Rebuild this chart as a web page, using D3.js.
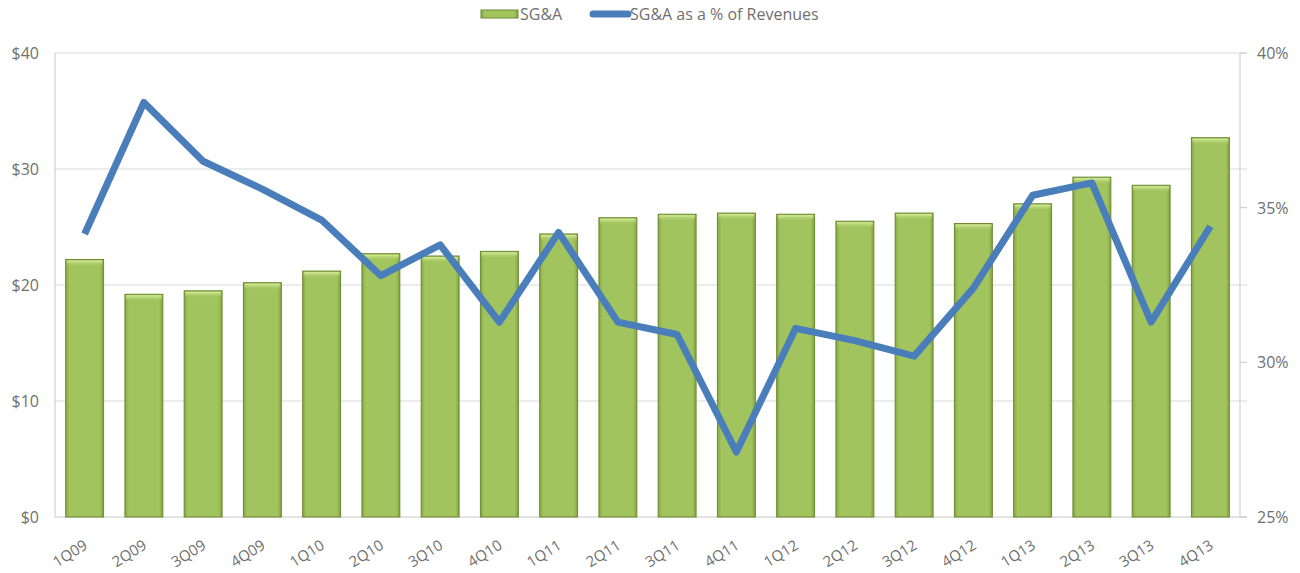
<!DOCTYPE html>
<html>
<head>
<meta charset="utf-8">
<script src="https://cdn.jsdelivr.net/npm/d3@7"></script>
<style>
  body { margin: 0; background: #fff; }
  text { font-family: "Open Sans", "DejaVu Sans", sans-serif; fill: #707070; }
</style>
</head>
<body>
<div class="canvas"></div>
<script>
// data
var quarters = ['1Q09','2Q09','3Q09','4Q09','1Q10','2Q10','3Q10','4Q10','1Q11','2Q11',
                '3Q11','4Q11','1Q12','2Q12','3Q12','4Q12','1Q13','2Q13','3Q13','4Q13'];
var sga = [22.2, 19.2, 19.5, 20.2, 21.2, 22.7, 22.5, 22.9, 24.4, 25.8,
           26.1, 26.2, 26.1, 25.5, 26.2, 25.3, 27.0, 29.3, 28.6, 32.7];
var sgaPct = [34.15, 38.4, 36.5, 35.6, 34.6, 32.8, 33.8, 31.3, 34.2, 31.3,
              30.9, 27.1, 31.1, 30.7, 30.2, 32.4, 35.4, 35.8, 31.3, 34.4];
var leftTicks = [0, 10, 20, 30, 40];
var rightTicks = [25, 30, 35, 40];
var legendNames = ['SG&A', 'SG&A as a % of Revenues'];

var width = 1300, height = 573;
var m = { left: 55, right: 60, top: 53, bottom: 56 };

var svg = d3.select('.canvas').append('svg')
  .attr('width', width).attr('height', height);

// bar gradient
var defs = svg.append('defs');
var grad = defs.append('linearGradient').attr('id', 'barGrad')
  .attr('x1', 0).attr('x2', 1).attr('y1', 0).attr('y2', 0);
grad.append('stop').attr('offset', '0%').attr('stop-color', '#86a83f');
grad.append('stop').attr('offset', '10%').attr('stop-color', '#a2c45e');
grad.append('stop').attr('offset', '90%').attr('stop-color', '#a2c45e');
grad.append('stop').attr('offset', '100%').attr('stop-color', '#82a33c');
var topGrad = defs.append('linearGradient').attr('id', 'topGrad')
  .attr('x1', 0).attr('x2', 0).attr('y1', 0).attr('y2', 1);
topGrad.append('stop').attr('offset', '0%').attr('stop-color', '#d8ee9e');
topGrad.append('stop').attr('offset', '100%').attr('stop-color', '#a2c45e').attr('stop-opacity', 0);

var x = d3.scaleBand().domain(quarters)
  .range([m.left, width - m.right]).paddingInner(0.36).paddingOuter(0.18);
var yL = d3.scaleLinear().domain([0, 40]).range([height - m.bottom, m.top]);
var yR = d3.scaleLinear().domain([25, 40]).range([height - m.bottom, m.top]);

// gridlines
svg.append('g').selectAll('line')
  .data(leftTicks.slice(1))
  .enter().append('line')
  .attr('x1', m.left).attr('x2', width - m.right + 7)
  .attr('y1', d => yL(d)).attr('y2', d => yL(d))
  .attr('stroke', '#d9d9d9').attr('stroke-width', 1);

// axes lines
svg.append('line').attr('x1', m.left).attr('x2', m.left)
  .attr('y1', m.top).attr('y2', height - m.bottom).attr('stroke', '#c8c8c8');
svg.append('line').attr('x1', width - m.right).attr('x2', width - m.right)
  .attr('y1', m.top).attr('y2', height - m.bottom).attr('stroke', '#c8c8c8');
svg.append('line').attr('x1', m.left).attr('x2', width - m.right + 7)
  .attr('y1', yL(0)).attr('y2', yL(0)).attr('stroke', '#c8c8c8');

// right tick marks
svg.append('g').selectAll('line')
  .data(rightTicks)
  .enter().append('line')
  .attr('x1', width - m.right).attr('x2', width - m.right + 7)
  .attr('y1', d => yR(d)).attr('y2', d => yR(d))
  .attr('stroke', '#c8c8c8');

// left labels
svg.append('g').selectAll('text')
  .data(leftTicks)
  .enter().append('text')
  .attr('x', 39).attr('y', d => yL(d) + 6)
  .attr('text-anchor', 'end')
  .style('font-size', '16px')
  .text(d => '$' + d);

// right labels
svg.append('g').selectAll('text')
  .data(rightTicks)
  .enter().append('text')
  .attr('x', 1257).attr('y', d => yR(d) + 6)
  .style('font-size', '16px')
  .text(d => d + '%');

// bars
var bars = svg.append('g').selectAll('g')
  .data(sga)
  .enter().append('g');
bars.append('rect')
  .attr('x', (d, i) => x(quarters[i]))
  .attr('y', d => yL(d))
  .attr('width', x.bandwidth())
  .attr('height', d => yL(0) - yL(d))
  .attr('fill', 'url(#barGrad)')
  .attr('stroke', '#6a8830').attr('stroke-width', 1);
bars.append('rect')
  .attr('x', (d, i) => x(quarters[i]) + 1)
  .attr('y', d => yL(d) + 1)
  .attr('width', x.bandwidth() - 2)
  .attr('height', 6)
  .attr('fill', 'url(#topGrad)');

// x labels
svg.append('g').selectAll('text')
  .data(quarters)
  .enter().append('text')
  .attr('transform', d => 'translate(' + (x(d) + x.bandwidth() / 2 + 4) + ',' + (height - m.bottom + 31) + ') rotate(-32)')
  .attr('text-anchor', 'end')
  .style('font-size', '15px')
  .text(d => d);

// line
var line = d3.line()
  .x((d, i) => x(quarters[i]) + x.bandwidth() / 2)
  .y(d => yR(d));
svg.append('path')
  .datum(sgaPct)
  .attr('d', line)
  .attr('fill', 'none')
  .attr('stroke', '#4a7ebb')
  .attr('stroke-width', 7)
  .attr('stroke-linejoin', 'round');

// legend
var lg = svg.append('g');
lg.append('rect').attr('x', 481).attr('y', 10).attr('width', 37).attr('height', 8)
  .attr('fill', 'url(#barGrad)').attr('stroke', '#6a8830');
lg.append('text').attr('x', 520).attr('y', 20).style('font-size', '16px').text(legendNames[0]);
lg.append('line').attr('x1', 593).attr('x2', 628).attr('y1', 14).attr('y2', 14)
  .attr('stroke', '#4a7ebb').attr('stroke-width', 7).attr('stroke-linecap', 'round');
lg.append('text').attr('x', 630).attr('y', 20).style('font-size', '16px').text(legendNames[1]);
</script>
</body>
</html>
